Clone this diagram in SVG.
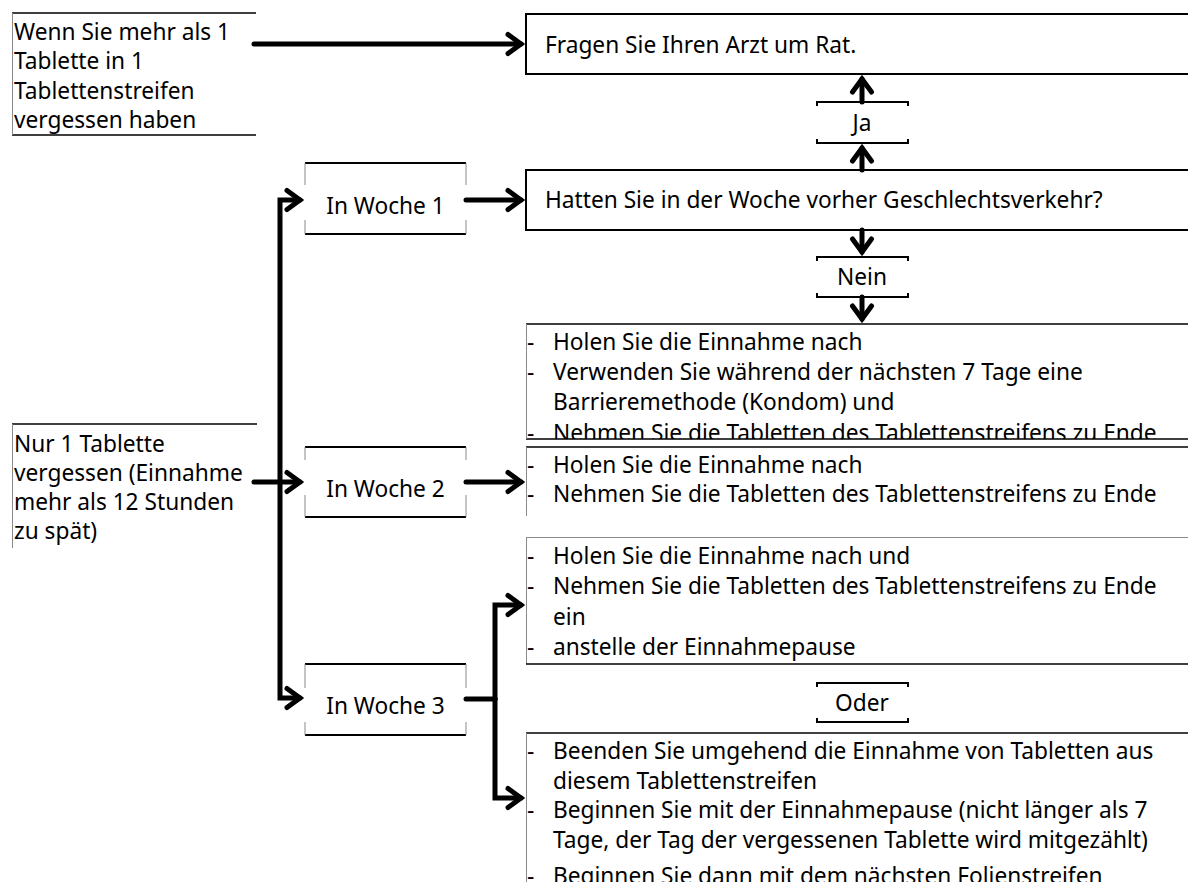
<svg xmlns="http://www.w3.org/2000/svg" width="1188" height="882" viewBox="0 0 1188 882">
<style>
text{font-family:"Noto Sans","Open Sans","DejaVu Sans",sans-serif;font-size:22.7px;fill:#000}
.c{text-anchor:middle}
.bd{fill:none;stroke:#000;stroke-width:2}
.bt{fill:none;stroke:#000;stroke-width:1.3}
.gs{fill:none;stroke:#8a8a8a;stroke-width:1}
.cn{fill:none;stroke:#000;stroke-width:5;stroke-linejoin:miter;stroke-linecap:round}
.ar{marker-end:url(#ah)}
</style>
<defs>
<marker id="ah" markerUnits="userSpaceOnUse" viewBox="-20 -15 30 30" markerWidth="30" markerHeight="30" refX="0" refY="0" orient="auto" overflow="visible">
<path d="M-13,-9.5 L0,0 L-13,9.5" fill="none" stroke="#000" stroke-width="5" stroke-linejoin="miter" stroke-linecap="round"/>
</marker>
<clipPath id="clip1"><rect x="520" y="324" width="680" height="115"/></clipPath>
</defs>
<rect width="1188" height="882" fill="#fff"/>

<g id="connectors">
<path class="cn ar" d="M254,44 H521"/>
<path class="cn ar" d="M280,482 V200 H300"/>
<path class="cn ar" d="M280,482 V698 H300"/>
<path class="cn ar" d="M254,482 H300"/>
<path class="cn ar" d="M466,200 H521"/>
<path class="cn ar" d="M466,482 H521"/>
<path class="cn" d="M466,699 H495"/>
<path class="cn ar" d="M495,699 V605 H521"/>
<path class="cn ar" d="M495,699 V798 H521"/>
<path class="cn ar" d="M862,170 V148"/>
<path class="cn ar" d="M862,102 V79"/>
<path class="cn ar" d="M862,230 V252"/>
<path class="cn ar" d="M862,297 V319"/>
</g>

<g id="n-wenn">
<path class="bt" d="M12,13 H256 M12,135 H256"/>
<path class="gs" d="M12.5,13 V135"/>
<text x="14" y="39.5">Wenn Sie mehr als 1</text>
<text x="14" y="69">Tablette in 1</text>
<text x="14" y="98.5">Tablettenstreifen</text>
<text x="14" y="128">vergessen haben</text>
</g>

<g id="n-nur">
<path class="bt" d="M12,424 H257"/>
<path class="gs" d="M12.5,424 V548"/>
<text x="14" y="452">Nur 1 Tablette</text>
<text x="14" y="481">vergessen (Einnahme</text>
<text x="14" y="510">mehr als 12 Stunden</text>
<text x="14" y="539">zu spät)</text>
</g>

<g id="n-fragen">
<path class="bd" d="M1190,14 H526 V74 H1190"/>
<text x="545" y="53">Fragen Sie Ihren Arzt um Rat.</text>
</g>

<g id="n-ja">
<path class="bd" d="M817,106 V102 H908 V106 M817,139 V143 H908 V139"/>
<text class="c" x="862" y="131">Ja</text>
</g>

<g id="n-hatten">
<path class="bd" d="M1190,170 H526 V230 H1190"/>
<text x="545" y="208">Hatten Sie in der Woche vorher Geschlechtsverkehr?</text>
</g>

<g id="n-nein">
<path class="bd" d="M817,261 V257 H908 V261 M817,293 V297 H908 V293"/>
<text class="c" x="862" y="285">Nein</text>
</g>

<g id="n-woche1">
<path class="bd" d="M305,163 H466 M305,234 H466"/>
<path class="gs" d="M305,163 V185 M305,220 V234 M466,163 V185 M466,220 V234"/>
<text class="c" x="385.5" y="214">In Woche 1</text>
</g>

<g id="n-woche2">
<path class="bd" d="M305,447 H466 M305,517 H466"/>
<path class="gs" d="M305,447 V460 M305,495 V517 M466,447 V460 M466,495 V517"/>
<text class="c" x="385.5" y="497">In Woche 2</text>
</g>

<g id="n-woche3">
<path class="bd" d="M305,664 H466 M305,735 H466"/>
<path class="gs" d="M305,664 V688 M305,722 V735 M466,664 V688 M466,722 V735"/>
<text class="c" x="385.5" y="714">In Woche 3</text>
</g>

<g id="n-res1">
<path class="bt" d="M1190,324 H526 M526,439 H1190"/>
<path class="gs" d="M526.5,324 V439"/>
<g clip-path="url(#clip1)">
<text x="527" y="350">-</text><text x="553" y="350">Holen Sie die Einnahme nach</text>
<text x="527" y="380">-</text><text x="553" y="380">Verwenden Sie während der nächsten 7 Tage eine</text>
<text x="553" y="410">Barrieremethode (Kondom) und</text>
<text x="527" y="441">-</text><text x="553" y="441">Nehmen Sie die Tabletten des Tablettenstreifens zu Ende</text>
</g>
</g>

<g id="n-res2">
<path class="bt" d="M526,447 H1190"/>
<path class="gs" d="M526.5,447 V516"/>
<text x="527" y="473">-</text><text x="553" y="473">Holen Sie die Einnahme nach</text>
<text x="527" y="502">-</text><text x="553" y="502">Nehmen Sie die Tabletten des Tablettenstreifens zu Ende</text>
</g>

<g id="n-res3a">
<path class="gs" d="M526,537.5 H1190 M526.5,537 V664"/>
<path class="bt" d="M526,664 H1190"/>
<text x="527" y="564">-</text><text x="553" y="564">Holen Sie die Einnahme nach und</text>
<text x="527" y="594">-</text><text x="553" y="594">Nehmen Sie die Tabletten des Tablettenstreifens zu Ende</text>
<text x="553" y="625">ein</text>
<text x="527" y="655">-</text><text x="553" y="655">anstelle der Einnahmepause</text>
</g>

<g id="n-oder">
<path class="bd" d="M817,687 V683 H908 V687 M817,718 V722 H908 V718"/>
<text class="c" x="862" y="711">Oder</text>
</g>

<g id="n-res3b">
<path class="bt" d="M1190,733 H526"/>
<path class="gs" d="M526.5,733 V882"/>
<text x="527" y="759">-</text><text x="553" y="759">Beenden Sie umgehend die Einnahme von Tabletten aus</text>
<text x="553" y="788.5">diesem Tablettenstreifen</text>
<text x="527" y="818">-</text><text x="553" y="818">Beginnen Sie mit der Einnahmepause (nicht länger als 7</text>
<text x="553" y="847.5">Tage, der Tag der vergessenen Tablette wird mitgezählt)</text>
<text x="527" y="884">-</text><text x="553" y="884">Beginnen Sie dann mit dem nächsten Folienstreifen</text>
</g>
</svg>
